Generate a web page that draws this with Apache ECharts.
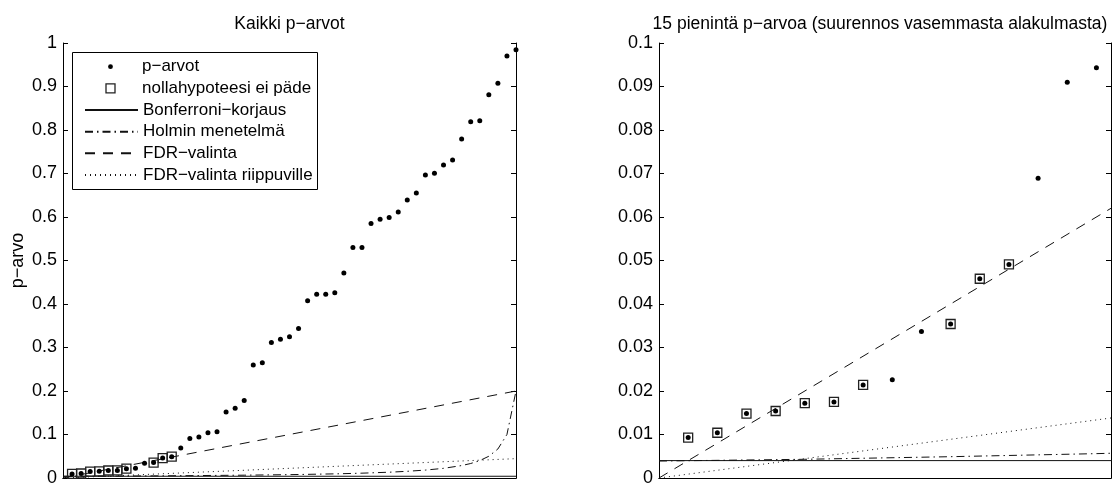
<!DOCTYPE html>
<html><head><meta charset="utf-8">
<script src="https://cdn.jsdelivr.net/npm/echarts@6/dist/echarts.min.js"></script>
<style>html,body{margin:0;padding:0;background:#fff}#c{width:1113px;height:487px}</style>
</head><body><div id="c"></div>
<script>
// ---- data ----
const titles = ['Kaikki p−arvot', '15 pienintä p−arvoa (suurennos vasemmasta alakulmasta)'];
const yLabel = 'p−arvo';
const names = ['p−arvot', 'nollahypoteesi ei päde', 'Bonferroni−korjaus', 'Holmin menetelmä', 'FDR−valinta', 'FDR−valinta riippuville'];
const rankIndex = [1,2,3,4,5,6,7,8,9,10,11,12,13,14,15,16,17,18,19,20,21,22,23,24,25,
                   26,27,28,29,30,31,32,33,34,35,36,37,38,39,40,41,42,43,44,45,46,47,48,49,50];
const pValues = [0.0093,0.0104,0.0148,0.0154,0.0172,0.0175,0.0214,0.0226,0.0337,0.0354,
                 0.0458,0.0491,0.0689,0.0910,0.0943,0.1040,0.1066,0.1520,0.1606,0.1780,
                 0.2600,0.2650,0.3117,0.3190,0.3246,0.3436,0.4073,0.4226,0.4226,0.4256,
                 0.4710,0.5296,0.5296,0.5850,0.5950,0.5987,0.6116,0.6390,0.6550,0.6966,
                 0.7005,0.7194,0.7308,0.7795,0.8190,0.8212,0.8810,0.9077,0.9700,0.9845];
const falseNullIndex = [1,2,3,4,5,6,7,10,11,12];
const bonfX = [0, 50], bonfY = [0.004, 0.004];
const holmX = [0,5,10,15,20,25,30,33,36,38,40,42,44,45,46,47,48,49,50];
const holmY = [0.0039,0.0043,0.0049,0.0056,0.0065,0.0077,0.0095,0.0111,0.0133,0.0154,0.0182,0.0222,0.0286,0.0333,0.0400,0.0500,0.0667,0.1000,0.2000];
const fdrX = [0, 50], fdrY = [0, 0.2];
const fdrDepX = [0, 50], fdrDepY = [0, 0.0445];
const zoomCount = 15;
const xMax = [50, 15.5];
const yMax = [1, 0.1];
const yStep = [0.1, 0.01];

// ---- build ----
const FONT = 'Liberation Sans, Arial, Helvetica, sans-serif';
const FS = 18;
const zip = (xs, ys) => xs.map((x, i) => [x, ys[i]]);
const grids = [
  {left: 63, top: 43, width: 453, height: 440},
  {left: 659, top: 43, width: 452, height: 440}
];
const SQ_STYLE = {color: 'rgba(0,0,0,0)', borderColor: '#222', borderWidth: 1.3};
const xAxis = [], yAxis = [], series = [];
grids.forEach((g, p) => {
  const base = {gridIndex: p, type: 'value', min: 0, max: xMax[p], splitLine: {show: false},
    axisLabel: {show: false}, axisTick: {show: false}, axisLine: {show: true, lineStyle: {color: '#000', width: 1}}};
  xAxis.push(Object.assign({position: 'bottom'}, base));
  xAxis.push(Object.assign({position: 'top'}, base));
  const ybase = {gridIndex: p, type: 'value', min: 0, max: yMax[p], interval: yStep[p], splitLine: {show: false},
    axisLine: {show: true, onZero: false, lineStyle: {color: '#000', width: 1}},
    axisTick: {show: true, inside: true, length: 5, lineStyle: {color: '#000'}}};
  yAxis.push(Object.assign({position: 'left',
    axisLabel: {show: true, color: '#000', fontSize: FS, fontFamily: FONT, margin: 6,
      showMinLabel: true, showMaxLabel: true,
      formatter: v => String(+v.toFixed(3))},
    name: p === 0 ? yLabel : '', nameLocation: 'middle', nameGap: 36, nameRotate: 90,
    nameTextStyle: {color: '#000', fontSize: FS, fontFamily: FONT}}, ybase));
  yAxis.push(Object.assign({position: 'right', axisLabel: {show: false}}, ybase));
  const xi = p * 2, yi = p * 2;
  const n = p === 0 ? rankIndex.length : zoomCount;
  const pts = rankIndex.slice(0, n).map((r, i) => [r, pValues[i]]);
  const sq = falseNullIndex.filter(r => r <= n).map(r => [r, pValues[r - 1]]);
  const lineS = (name, data, type, color) => ({
    name, type: 'line', xAxisIndex: xi, yAxisIndex: yi, data, symbol: 'none', clip: true,
    lineStyle: {color, width: 1, type}, itemStyle: {color}, z: 2
  });
  const markS = (name, data, symbol, size, itemStyle, z) => ({
    name, type: 'line', xAxisIndex: xi, yAxisIndex: yi, data, symbol, symbolSize: size,
    showSymbol: true, showAllSymbol: true, clip: true,
    lineStyle: {width: 0, opacity: 0}, itemStyle, z
  });
  series.push(lineS(names[2], zip(bonfX, bonfY), 'solid', '#111'));
  series.push(lineS(names[3], zip(holmX, holmY), [8, 4, 1.5, 4], '#111'));
  series.push(lineS(names[4], zip(fdrX, fdrY), [10, 8], '#111'));
  series.push(lineS(names[5], zip(fdrDepX, fdrDepY), [1, 4], '#111'));
  series.push(markS(names[1], sq, 'rect', 9, SQ_STYLE, 3));
  series.push(markS(names[0], pts, 'circle', 5, {color: '#000'}, 4));
});

const rowCenters = [66.7, 88.3, 110, 131.7, 153.3, 175];
const LH = 20;
const legend = names.map((nm, k) => {
  const L = {
    data: [nm], left: 84, top: rowCenters[k] - LH / 2, padding: 0, itemWidth: 53,
    selectedMode: false, orient: 'vertical',
    textStyle: {color: '#000', fontSize: 17, fontFamily: FONT, lineHeight: LH}
  };
  if (k === 0) { L.itemHeight = 6; L.itemStyle = {color: '#000'}; }
  else if (k === 1) { L.itemHeight = 11.25; L.itemStyle = SQ_STYLE; }
  else { L.itemHeight = 2; L.itemStyle = {opacity: 0}; }
  return L;
});

const option = {
  animation: false,
  backgroundColor: '#fff',
  textStyle: {fontFamily: FONT},
  title: [
    {text: titles[0], left: 289.5, textAlign: 'center', top: 15, padding: 0,
     textStyle: {color: '#000', fontSize: 17.5, fontWeight: 'normal', fontFamily: FONT}},
    {text: titles[1], left: 880, textAlign: 'center', top: 15, padding: 0,
     textStyle: {color: '#000', fontSize: 17.5, fontWeight: 'normal', fontFamily: FONT}}
  ],
  grid: grids,
  xAxis, yAxis, series, legend,
  graphic: [{type: 'rect', shape: {x: 72.5, y: 52.5, width: 245, height: 137}, silent: true,
    style: {fill: 'none', stroke: '#000', lineWidth: 1}, z: 10}]
};
const chart = echarts.init(document.getElementById('c'), null, {renderer: 'canvas'});
chart.setOption(option);
</script></body></html>
